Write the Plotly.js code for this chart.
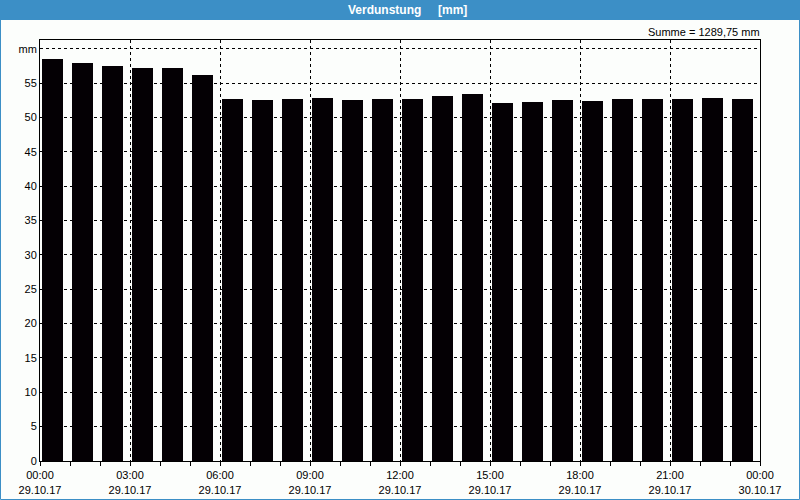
<!DOCTYPE html>
<html>
<head>
<meta charset="utf-8">
<script src="https://cdn.plot.ly/plotly-3.0.1.min.js"></script>
<style>
html,body{margin:0;padding:0;background:#fcfefc;}
#chart{width:800px;height:500px;}
</style>
</head>
<body>
<div id="chart"></div>
<script>
// Hour slots (start hour of each bar) on 29.10.17
const hours = [0,1,2,3,4,5,6,7,8,9,10,11,12,13,14,15,16,17,18,19,20,21,22,23];
// Verdunstung values in mm
const values = [58.45,57.9,57.45,57.15,57.15,56.15,52.65,52.5,52.65,52.8,52.5,52.65,
                52.65,53.05,53.35,52.05,52.2,52.5,52.35,52.65,52.65,52.65,52.8,52.65];
// X tick labels
const xTickVals = [0,3,6,9,12,15,18,21,24];
const xTimes = ["00:00","03:00","06:00","09:00","12:00","15:00","18:00","21:00","00:00"];
const xDates = ["29.10.17","29.10.17","29.10.17","29.10.17","29.10.17","29.10.17","29.10.17","29.10.17","30.10.17"];
// Y tick labels
const yTickVals = [0,5,10,15,20,25,30,35,40,45,50,55,60];
const yTickText = ["0","5","10","15","20","25","30","35","40","45","50","55","mm"];
const titleText = "Verdunstung\u00A0\u00A0\u00A0\u00A0\u00A0[mm]";
const sumText = "Summe = 1289,75 mm";

const blue = "#3c8fc6";
const W = 800, H = 500, L = 40, R = 40, T = 40, B = 39;
const pw = W - L - R, ph = H - T - B;
const px = x => (x - L) / pw;
const py = y => (H - B - y) / ph;

const trace = {
  type: "bar",
  x: hours,
  y: values,
  offset: 0.05,
  width: 0.73,
  marker: {color: "#040004", line: {width: 0}},
  hoverinfo: "x+y"
};

const layout = {
  width: W, height: H,
  margin: {l: L, r: R, t: T, b: B, pad: 0},
  paper_bgcolor: "#fcfefc",
  plot_bgcolor: "#fcfefc",
  font: {family: "Liberation Sans, Arial, sans-serif", size: 11, color: "#000"},
  showlegend: false,
  bargap: 0,
  xaxis: {
    type: "linear",
    range: [0, 24],
    tickmode: "array",
    tickvals: xTickVals,
    ticktext: xTimes.map((t, i) => t + "<br>" + xDates[i]),
    ticks: "outside", ticklen: 4, tickcolor: "#000", tickwidth: 1,
    minor: {dtick: 1, tick0: 0, ticks: "outside", ticklen: 4, tickcolor: "#000", tickwidth: 1, showgrid: false},
    showgrid: true, gridcolor: "#000", gridwidth: 1, griddash: "3px,3px",
    showline: true, linecolor: "#000", linewidth: 1, mirror: true,
    zeroline: false,
    tickfont: {size: 11, color: "#000"},
    fixedrange: true
  },
  yaxis: {
    range: [0, 61.27],
    tickmode: "array",
    tickvals: yTickVals,
    ticktext: yTickText,
    ticks: "",
    showgrid: true, gridcolor: "#000", gridwidth: 1, griddash: "3px,3px",
    showline: true, linecolor: "#000", linewidth: 1, mirror: true,
    zeroline: false,
    tickfont: {size: 11, color: "#000"},
    fixedrange: true
  },
  shapes: [
    {type: "rect", xref: "paper", yref: "paper",
     x0: px(0), x1: px(800), y0: py(0), y1: py(20),
     fillcolor: blue, line: {width: 0}, layer: "below"},
    {type: "rect", xref: "paper", yref: "paper",
     x0: px(0.5), x1: px(799.5), y0: py(0.5), y1: py(499.5),
     line: {color: blue, width: 1}, fillcolor: "rgba(0,0,0,0)", layer: "above"}
  ],
  annotations: [
    {xref: "paper", yref: "paper", x: px(407), y: py(10),
     xanchor: "center", yanchor: "middle", showarrow: false,
     text: "<b>" + titleText + "</b>",
     font: {size: 12, color: "#ffffff", family: "Liberation Sans, Arial, sans-serif"}},
    {xref: "paper", yref: "paper", x: px(762), y: py(32),
     xanchor: "right", yanchor: "middle", showarrow: false,
     text: sumText,
     font: {size: 11, color: "#000"}}
  ]
};

Plotly.newPlot("chart", [trace], layout, {displayModeBar: false, staticPlot: true});
</script>
</body>
</html>
